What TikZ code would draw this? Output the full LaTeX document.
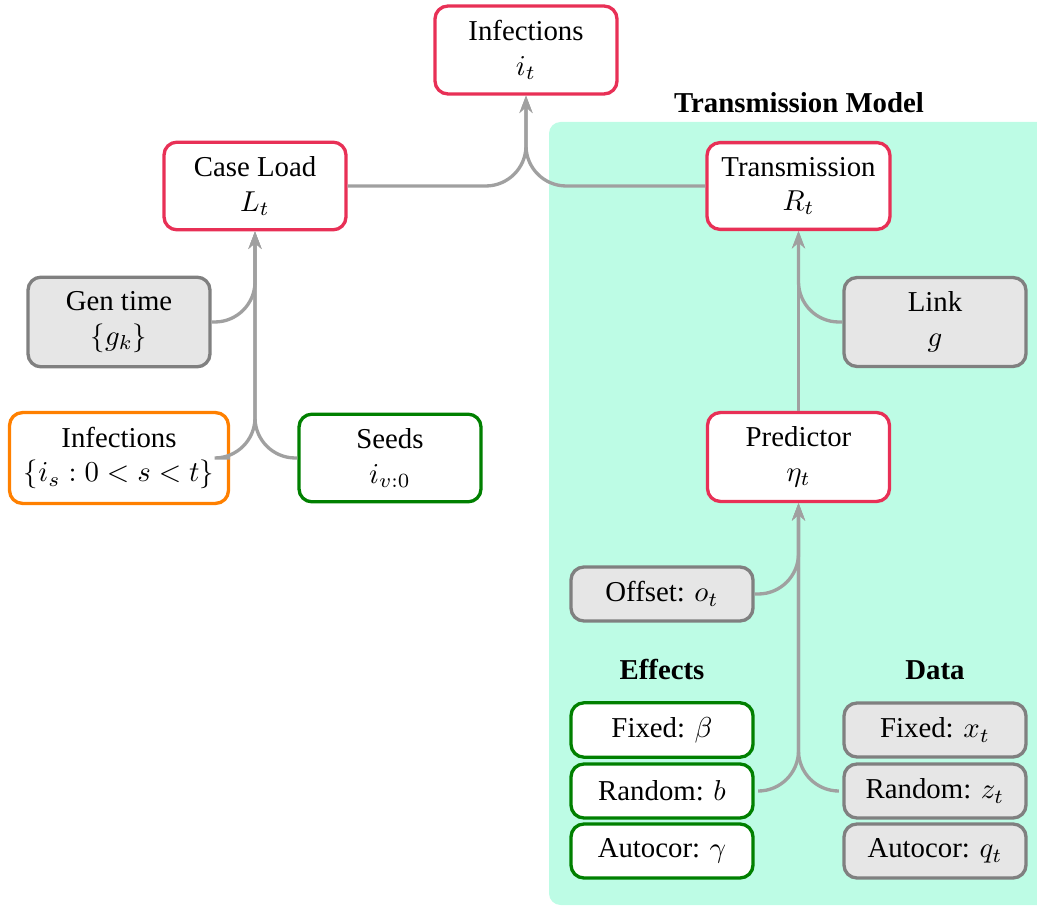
\documentclass[tikz,border=0pt]{standalone}
\usepackage[no-math]{fontspec}
\setmainfont{Liberation Serif}
\usetikzlibrary{arrows.meta}
\definecolor{cred}{RGB}{232,48,86}
\definecolor{cgreen}{RGB}{0,128,0}
\definecolor{corange}{RGB}{255,128,0}
\definecolor{cgrayd}{RGB}{128,128,128}
\definecolor{cgrayf}{RGB}{230,230,230}
\definecolor{cline}{RGB}{160,160,160}
\definecolor{cmint}{RGB}{189,252,229}
\tikzset{
  box/.style={draw, line width=1.15pt, rounded corners=4.5pt, minimum width=63.2pt,
    minimum height=18.75pt, inner sep=5pt, align=center},
  redbox/.style={box, draw=cred, fill=white},
  grnbox/.style={box, draw=cgreen, fill=white},
  orgbox/.style={box, draw=corange, fill=white},
  grybox/.style={box, draw=cgrayd, fill=cgrayf},
  two/.style={minimum height=30pt},
  conn/.style={draw=cline, line width=1.15pt, rounded corners=14pt,
    -{Stealth[length=6pt,width=4.5pt,inset=2pt]}},
  lbl/.style={font=\bfseries, inner sep=0pt}
}
\begin{document}
\begin{tikzpicture}[x=0.3472pt, y=-0.3472pt]
\useasboundingbox (0,0) rectangle (1037,907);
\begin{scope}
  \clip (0,0) rectangle (1037,907);
  \fill[cmint, rounded corners=4pt] (549,122) rectangle (1060,905);
\end{scope}
\node[lbl] (title) at (799,103) {Transmission Model};

\node[redbox, two] (inft) at (526,50) {Infections\\ $i_t$};
\node[redbox, two] (case) at (255,186) {Case Load\\ $L_t$};
\node[redbox, two] (trans) at (798.5,186) {Transmission\\ $R_t$};
\node[grybox, two] (gen) at (119,322) {Gen time\\ $\{g_k\}$};
\node[orgbox, two] (infs) at (119,458) {Infections\\ $\{i_s : 0 < s < t\}$};
\node[grnbox, two] (seeds) at (390,458) {Seeds\\ $i_{v:0}$};
\node[grybox, two] (link) at (935,322) {Link\\ $g$};
\node[redbox, two] (pred) at (798.5,457) {Predictor\\ $\eta_t$};
\node[grybox] (offset) at (662,594) {Offset: $o_t$};
\node[lbl] (effects) at (662,670) {Effects};
\node[lbl] (data) at (935,670) {Data};
\node[grnbox] (fb) at (662,730) {Fixed: $\beta$};
\node[grnbox] (rb) at (662,791) {Random: $b$};
\node[grnbox] (ab) at (662,851) {Autocor: $\gamma$};
\node[grybox] (fx) at (935,730) {Fixed: $x_t$};
\node[grybox] (rz) at (935,791) {Random: $z_t$};
\node[grybox] (aq) at (935,851) {Autocor: $q_t$};

\draw[conn] (case.east) -| (inft.south);
\draw[conn] (trans.west) -| (inft.south);
\draw[conn] (gen.east) -| (case.south);
\draw[conn] (infs.east) -| (case.south);
\draw[conn] (seeds.west) -| (case.south);
\draw[conn] (link.west) -| (trans.south);
\draw[conn] (pred.north) -- (trans.south);
\draw[conn] (offset.east) -| (pred.south);
\draw[conn] ([xshift=2.5pt]rb.east) -| (pred.south);
\draw[conn] ([xshift=-2.5pt]rz.west) -| (pred.south);
\end{tikzpicture}
\end{document}
